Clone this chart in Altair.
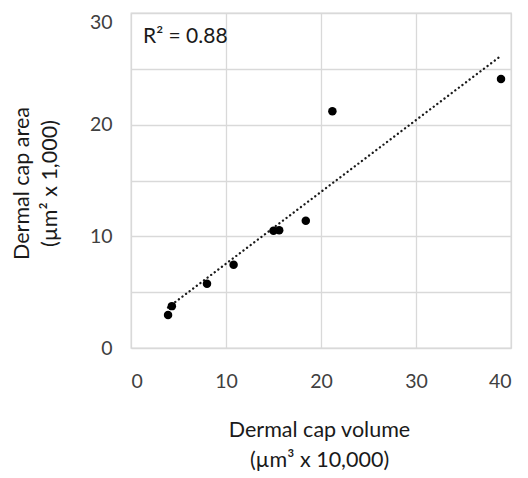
import altair as alt
import pandas as pd

volume = [3.9, 4.3, 8.0, 10.8, 15.0, 15.6, 18.4, 21.2, 38.95]
area = [2.95, 3.75, 5.75, 7.45, 10.5, 10.55, 11.4, 21.2, 24.1]
r2_label = ["R² = 0.88"]

df = pd.DataFrame({"volume": volume, "area": area})
FONT = "Lato"
TITLE_SIZE = 21.5
LABEL_SIZE = 19.5

x_enc = alt.X("volume:Q",
              scale=alt.Scale(domain=[0, 40], nice=False),
              axis=alt.Axis(values=[0, 10, 20, 30, 40],
                            title=["Dermal cap volume", "(µm³ x 10,000)"],
                            titleFontSize=TITLE_SIZE, titleFontWeight="normal", titleFont=FONT,
                            titleColor="#1a1a1a", titleLineHeight=30,
                            titleX=188, titleY=82, titleBaseline="middle",
                            labelFontSize=LABEL_SIZE, labelFont=FONT, labelColor="#404040",
                            labelPadding=24, domain=False, ticks=False,
                            gridColor="#d9d9d9", gridWidth=1.3))
y_enc = alt.Y("area:Q",
              scale=alt.Scale(domain=[0, 30], nice=False),
              axis=alt.Axis(values=[0, 5, 10, 15, 20, 25, 30],
                            labelExpr="datum.value % 10 == 0 ? datum.label : ''",
                            labelBaseline={"condition": {"test": "datum.value == 30", "value": "top"},
                                           "value": "middle"},
                            title=["Dermal cap area", "(µm² x 1,000)"],
                            titleFontSize=TITLE_SIZE, titleFontWeight="normal", titleFont=FONT,
                            titleColor="#1a1a1a", titleLineHeight=28,
                            titleX=-109, titleY=170, titleBaseline="middle", titleAngle=270,
                            labelFontSize=LABEL_SIZE, labelFont=FONT, labelColor="#404040",
                            labelPadding=19, domain=False, ticks=False,
                            gridColor="#d9d9d9", gridWidth=1.3))

points = alt.Chart(df).mark_point(filled=True, color="black", size=72, opacity=1).encode(
    x=x_enc, y=y_enc)

trend = alt.Chart(df).transform_regression("volume", "area").mark_line(
    color="#1a1a1a", strokeWidth=2.3, strokeDash=[0.1, 4.4], strokeCap="round").encode(
    x="volume:Q", y="area:Q")

r2 = alt.Chart(pd.DataFrame({"t": r2_label})).mark_text(
    align="left", baseline="middle", fontSize=21, font=FONT, color="#1a1a1a").encode(
    x=alt.value(12), y=alt.value(24), text="t:N")

chart = alt.layer(trend, points, r2).properties(
    width=380, height=335,
    autosize=alt.AutoSizeParams(type="none"),
    padding={"left": 123, "top": 5, "right": 9, "bottom": 125},
).configure_view(stroke="#d9d9d9", strokeWidth=1.3)

chart.save("out.html", embed_options={"renderer": "svg", "actions": False})
